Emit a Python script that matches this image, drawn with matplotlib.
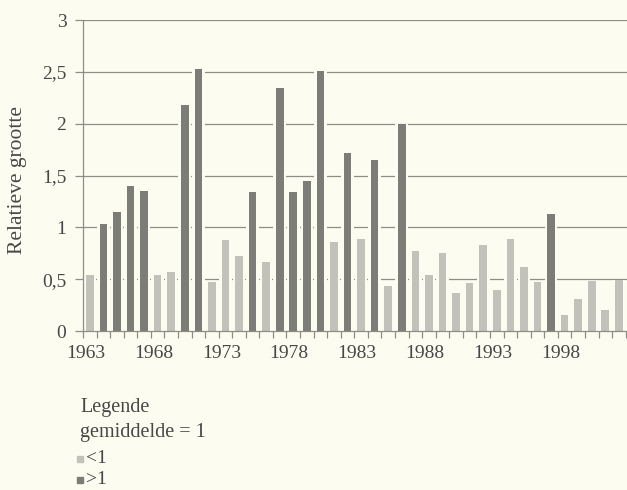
import numpy as np
import matplotlib
matplotlib.use("Agg")
import matplotlib.pyplot as plt
from matplotlib.patches import Rectangle

plt.rcParams['font.family'] = ['Liberation Serif', 'DejaVu Serif']

BG = '#fdfcf1'
GRID = '#8e8e86'
LIGHT = '#c2c2ba'
DARK = '#7d7d77'
TXT = '#474747'

years = np.arange(1963, 2003)
values = [0.54, 1.03, 1.15, 1.40, 1.35, 0.54, 0.57, 2.18, 2.53, 0.47,
          0.88, 0.72, 1.34, 0.67, 2.34, 1.34, 1.45, 2.51, 0.86, 1.72,
          0.89, 1.65, 0.43, 2.00, 0.77, 0.54, 0.75, 0.37, 0.46, 0.83,
          0.40, 0.89, 0.62, 0.47, 1.13, 0.15, 0.31, 0.48, 0.20, 0.49]
label_years = [1963, 1968, 1973, 1978, 1983, 1988, 1993, 1998]
yticks = [0, 0.5, 1, 1.5, 2, 2.5, 3]
ytick_labels = ['0', '0,5', '1', '1,5', '2', '2,5', '3']

values = np.array(values)
colors = [DARK if v > 1 else LIGHT for v in values]

fig = plt.figure(figsize=(6.27, 4.9), dpi=100, facecolor=BG)
ax = fig.add_axes([83 / 627, 1 - 331 / 490, 1 - 83 / 627, 311 / 490])
ax.set_facecolor(BG)

# gridlines behind, with a background-coloured halo around each bar
for yv in yticks[1:]:
    ax.axhline(yv, color=GRID, lw=0.9, zorder=1)
ax.bar(years, values, width=0.93, color=BG, zorder=2)
ax.bar(years, values, width=0.56, color=colors, zorder=3)

ax.set_xlim(1962.5, 2002.6)
ax.set_ylim(0, 3)

for s in ['top', 'right']:
    ax.spines[s].set_visible(False)
for s in ['left', 'bottom']:
    ax.spines[s].set_color(GRID)
    ax.spines[s].set_linewidth(0.9)
    ax.spines[s].set_zorder(4)

ax.set_yticks(yticks)
ax.set_yticklabels(ytick_labels, fontsize=14, color=TXT)
ax.tick_params(axis='y', length=6, width=0.9, color=GRID, pad=6)

ax.set_xticks(np.arange(1962.5, 2003, 1), minor=True)
ax.tick_params(axis='x', which='minor', length=5, width=0.9, color=GRID)
ax.set_xticks([y - 0.3 for y in label_years])
ax.set_xticklabels([str(y) for y in label_years], fontsize=14, color=TXT)
ax.tick_params(axis='x', which='major', length=0, pad=10)

fig.text(18 / 627, 1 - 180 / 490, 'Relatieve grootte', rotation=90,
         ha='center', va='center', fontsize=15.5, color=TXT)

# legend block
fig.text(80 / 627, 1 - 412 / 490, 'Legende', fontsize=14.5, color=TXT,
         va='baseline')
fig.text(80 / 627, 1 - 437 / 490, 'gemiddelde = 1', fontsize=14.5,
         color=TXT, va='baseline')
for yb, c, t in [(463, LIGHT, '<1'), (484, DARK, '>1')]:
    fig.patches.append(Rectangle((77 / 627, 1 - (yb - 1) / 490), 6 / 627, 6 / 490,
                                 transform=fig.transFigure, color=c))
    fig.text(86 / 627, 1 - yb / 490, t, fontsize=14, color=TXT,
             va='baseline')

fig.savefig('out.png', dpi=100, facecolor=BG)
